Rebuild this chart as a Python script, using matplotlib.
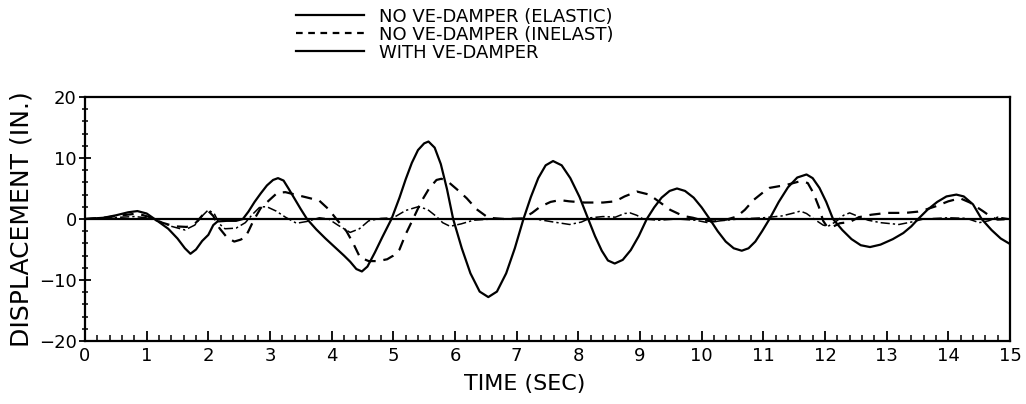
import numpy as np
import matplotlib.pyplot as plt
from matplotlib.lines import Line2D

# NO VE-DAMPER (ELASTIC)
t_el = [0, 0.3, 0.5, 0.7, 0.85, 1.0, 1.1, 1.2, 1.35, 1.5, 1.62, 1.71, 1.8, 1.9,
        2.0, 2.08, 2.15, 2.3, 2.45, 2.56, 2.65, 2.75, 2.85, 2.95, 3.05, 3.13,
        3.22, 3.3, 3.4, 3.5, 3.6, 3.75, 3.9, 4.05, 4.2, 4.3, 4.4, 4.49, 4.58,
        4.7, 4.82, 4.97, 5.1, 5.2, 5.3, 5.4, 5.5, 5.57, 5.67, 5.77, 5.87, 5.97,
        6.11, 6.25, 6.4, 6.54, 6.68, 6.83, 6.97, 7.11, 7.23, 7.35, 7.47, 7.59,
        7.73, 7.87, 8.02, 8.16, 8.27, 8.38, 8.48, 8.59, 8.72, 8.85, 8.98, 9.11,
        9.23, 9.35, 9.48, 9.6, 9.73, 9.87, 10.0, 10.13, 10.26, 10.39, 10.52,
        10.65, 10.76, 10.87, 10.98, 11.1, 11.25, 11.4, 11.55, 11.7, 11.8, 11.91,
        12.02, 12.13, 12.28, 12.43, 12.58, 12.73, 12.9, 13.1, 13.27, 13.4, 13.51,
        13.66, 13.82, 13.97, 14.13, 14.25, 14.4, 14.54, 14.7, 14.85, 15.0]
d_el = [0, 0.2, 0.6, 1.1, 1.3, 0.9, 0.2, -0.5, -1.6, -3.2, -4.8, -5.7, -5.0, -3.6,
        -2.6, -1.0, -0.4, -0.3, -0.3, 0.0, 1.2, 2.8, 4.2, 5.5, 6.4, 6.7,
        6.3, 5.0, 3.3, 1.6, 0.0, -1.7, -3.2, -4.6, -6.0, -7.0, -8.2, -8.6, -7.8,
        -5.5, -3.0, 0.0, 3.5, 6.5, 9.2, 11.3, 12.4, 12.7, 11.7, 9.0, 4.9, 0.0,
        -4.8, -8.9, -11.9, -12.8, -11.9, -8.9, -4.8, 0.0, 3.6, 6.7, 8.8, 9.5,
        8.8, 6.7, 3.6, 0.0, -2.8, -5.2, -6.8, -7.3, -6.7, -5.1, -2.8, 0.0,
        1.9, 3.5, 4.6, 5.0, 4.6, 3.5, 1.9, 0.0, -2.0, -3.7, -4.8,
        -5.2, -4.8, -3.7, -2.0, 0.0, 2.8, 5.2, 6.8, 7.3, 6.7, 5.1,
        2.8, 0.0, -1.8, -3.3, -4.3, -4.6, -4.2, -3.3, -2.3, -1.2, 0.0,
        1.5, 2.8, 3.7, 4.0, 3.7, 2.4, 0.0, -1.8, -3.2, -4.1]

# NO VE-DAMPER (INELAST)
t_in = [0, 0.3, 0.6, 0.85, 1.05, 1.25, 1.45, 1.65, 1.8, 1.92, 2.0, 2.08, 2.18,
        2.3, 2.42, 2.52, 2.6, 2.66, 2.73, 2.85, 3.0, 3.12, 3.25, 3.45, 3.65,
        3.8, 3.95, 4.1, 4.24, 4.35, 4.46, 4.6, 4.75, 4.9, 5.0, 5.1, 5.2, 5.32,
        5.45, 5.58, 5.7, 5.78, 5.9, 6.05, 6.19, 6.35, 6.54, 6.8, 7.1, 7.25,
        7.38, 7.55, 7.7, 7.85, 8.1, 8.4, 8.6, 8.75, 8.95, 9.15, 9.3, 9.49, 9.7,
        9.86, 10.0, 10.2, 10.4, 10.57, 10.7, 10.84, 11.0, 11.1, 11.38, 11.6,
        11.72, 11.81, 11.9, 11.97, 12.03, 12.12, 12.24, 12.4, 12.55, 12.75,
        13.0, 13.3, 13.5, 13.65, 13.8, 14.0, 14.19, 14.35, 14.47, 14.56, 14.7,
        14.8, 15.0]
d_in = [0, 0.2, 0.6, 0.9, 0.3, -0.6, -1.2, -1.3, -0.6, 0.8, 1.3, 0.5, -1.5,
        -3.0, -3.7, -3.4, -3.0, -1.8, -0.3, 1.8, 3.2, 4.3, 4.4, 3.9, 3.4,
        3.0, 1.6, -0.3, -2.0, -4.0, -6.3, -6.9, -6.9, -6.6, -6.0, -5.0, -2.5, 0.0,
        2.8, 5.0, 6.4, 6.6, 6.0, 4.7, 3.4, 1.6, 0.2, 0.0, 0.1, 1.0,
        2.0, 2.8, 3.1, 2.9, 2.7, 2.7, 2.9, 3.7, 4.5, 4.0, 2.9, 1.5, 0.5,
        0.2, -0.2, -0.4, -0.1, 0.4, 1.5, 3.1, 4.4, 5.1, 5.6, 6.2,
        5.9, 4.3, 2.0, -0.3, -1.2, -1.3, -0.7, -0.5, 0.3, 0.7,
        1.0, 1.0, 1.2, 1.6, 2.1, 2.9, 3.4, 2.7, 1.9, 1.3, 0.3,
        -0.1, 0.0]

# WITH VE-DAMPER
t_ve = [0, 0.4, 0.8, 1.0, 1.2, 1.4, 1.62, 1.78, 1.9, 2.0, 2.1, 2.18, 2.27, 2.45,
        2.6, 2.72, 2.84, 2.95, 3.1, 3.25, 3.43, 3.6, 3.8, 3.95, 4.1, 4.3, 4.45,
        4.6, 4.8, 5.0, 5.2, 5.4, 5.55, 5.7, 5.8, 5.92, 6.1, 6.3, 6.6, 7.0, 7.3,
        7.6, 7.86, 8.05, 8.2, 8.4, 8.6, 8.75, 8.84, 8.95, 9.05, 9.3, 9.6, 9.9,
        10.1, 10.3, 10.6, 11.0, 11.3, 11.5, 11.6, 11.7, 11.85, 11.97, 12.05,
        12.18, 12.3, 12.4, 12.52, 12.7, 12.9, 13.2, 13.4, 13.6, 14.0, 14.3, 14.5,
        14.65, 14.8, 15.0]
d_ve = [0, 0.2, 0.4, 0.2, -0.4, -1.2, -1.8, -1.0, 0.5, 1.5, 0.8, -0.8, -1.6, -1.5,
        -0.6, 0.8, 2.0, 2.0, 1.3, 0.3, -0.7, -0.4, 0.2, 0.0, -1.0, -2.2, -1.6,
        -0.3, 0.1, 0.2, 1.4, 2.0, 1.6, 0.4, -0.6, -1.2, -0.8, -0.2, 0.0, 0.0, 0.0,
        -0.5, -0.9, -0.5, 0.2, 0.4, 0.3, 0.9, 1.0, 0.6, 0.0, -0.2, 0.0, -0.2,
        -0.6, -0.3, 0.0, 0.2, 0.5, 1.0, 1.3, 0.9, -0.2, -1.0, -1.2,
        -0.4, 0.6, 1.0, 0.5, -0.2, -0.6, -0.9, -0.5, 0.0, 0.2, 0.1, -0.6,
        -0.3, 0.3, 0.0]

labels = ["NO VE-DAMPER (ELASTIC)", "NO VE-DAMPER (INELAST)", "WITH VE-DAMPER"]

fig = plt.figure(figsize=(10.26, 4.04), dpi=100)
ax = fig.add_axes([85 / 1026, 1 - 341 / 404, 925 / 1026, 244 / 404])

ax.axhline(0, color="k", lw=1.6)
ax.plot(t_el, d_el, color="k", lw=1.6)
ax.plot(t_in, d_in, color="k", lw=1.6, dashes=(5, 3.5))
ax.plot(t_ve, d_ve, color="k", lw=1.1, linestyle=(0, (6, 2, 1.5, 2)))

ax.set_xlim(0, 15)
ax.set_ylim(-20, 20)
ax.set_xticks(np.arange(0, 16, 1))
ax.set_xticks(np.arange(0, 15.01, 0.2), minor=True)
ax.set_yticks([-20, -10, 0, 10, 20])
ax.set_yticks(np.arange(-20, 20.1, 2), minor=True)
ax.tick_params(axis="x", which="major", direction="in", length=7, width=1.3,
               labelsize=13, pad=4)
ax.tick_params(axis="x", which="minor", direction="in", length=4, width=1.1)
ax.tick_params(axis="y", which="major", direction="inout", length=8, width=1.3,
               labelsize=13, pad=2)
ax.tick_params(axis="y", which="minor", direction="inout", length=5, width=1.1)
for s in ax.spines.values():
    s.set_linewidth(1.6)

ax.set_xlabel("TIME (SEC)", fontsize=16, va="center")
ax.xaxis.set_label_coords(0.475, -0.175)
ax.set_ylabel("DISPLACEMENT (IN.)", fontsize=18, labelpad=4)

handles = [Line2D([], [], color="k", lw=1.6),
           Line2D([], [], color="k", lw=1.6, dashes=(3, 2.5)),
           Line2D([], [], color="k", lw=1.6)]
fig.legend(handles, labels, loc="upper left", bbox_to_anchor=(283 / 1026, 1.012),
           frameon=False, fontsize=13, handlelength=3.8, handletextpad=0.8,
           labelspacing=0.0, borderpad=0.2)

fig.savefig("out.png", dpi=100)
